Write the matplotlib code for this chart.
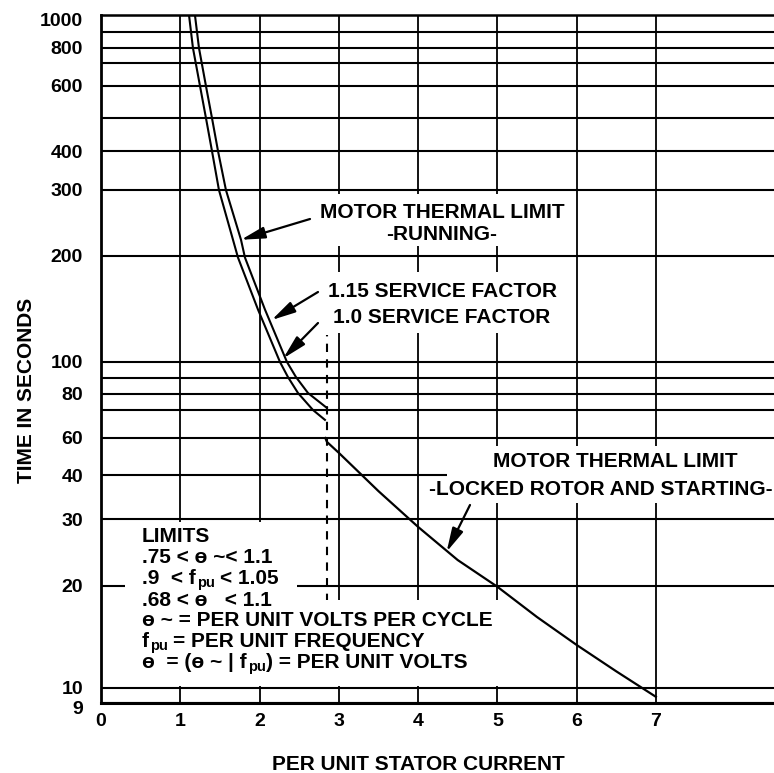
import numpy as np
import matplotlib
matplotlib.use("Agg")
import matplotlib.pyplot as plt
from matplotlib.patches import Rectangle
from matplotlib.transforms import ScaledTranslation
from matplotlib.ticker import FixedLocator, FixedFormatter, NullLocator

plt.rcParams["font.family"] = ["Liberation Sans", "DejaVu Sans"]
plt.rcParams["font.weight"] = "bold"

# running thermal limit, 1.15 service factor (per unit current, seconds)
sf115_current = [1.185, 1.236, 1.324, 1.400, 1.476, 1.576, 1.766, 1.816, 2.068, 2.346, 2.459, 2.611, 2.850]
sf115_time = [1000, 800, 600, 500, 400, 300, 221, 198, 141, 100, 90.6, 80.6, 71.2]

# running thermal limit, 1.0 service factor
sf100_current = [1.110, 1.160, 1.249, 1.324, 1.400, 1.488, 1.665, 1.728, 1.980, 2.258, 2.358, 2.485, 2.674, 2.825]
sf100_time = [1000, 800, 600, 500, 400, 300, 221, 198, 141, 100, 90.6, 80.6, 70, 66.3]

# locked rotor and starting limit
locked_current = [2.83, 2.85, 3.0, 3.5, 4.0, 4.5, 5.0, 5.5, 6.0, 6.5, 7.0]
locked_time = [60, 57.5, 51, 36, 28.6, 23.4, 19.9, 16.2, 13.4, 11.2, 9.4]

# boundary between running and locked-rotor regions
boundary_current = 2.85
boundary_time = [18, 119]

y_lines = [9, 10, 20, 30, 40, 60, 70, 80, 90, 100, 200, 300, 400, 500, 600, 700, 800, 900, 1000]
y_labels = ["9", "10", "20", "30", "40", "60", "", "80", "", "100",
            "200", "300", "400", "", "600", "", "800", "", "1000"]
x_ticks = list(range(8))

# printed ruling of the chart paper: height of each line above the bottom edge
ruling_height = np.array([0, 15, 117, 184, 228, 265, 293, 309, 325, 341,
                          447, 513, 552, 585, 617, 640, 655, 671, 688], dtype=float)
ruling_log = np.log10(y_lines)


def to_paper(v):
    v = np.clip(np.asarray(v, dtype=float), 1e-6, None)
    return np.interp(np.log10(v), ruling_log, ruling_height)


def from_paper(p):
    return 10 ** np.interp(np.asarray(p, dtype=float), ruling_height, ruling_log)


W, H = 774, 773
fig = plt.figure(figsize=(W / 100, H / 100), dpi=100)
ax = fig.add_axes([101 / W, 70 / H, 673 / W, 688 / H])
renderer = fig.canvas.get_renderer()


def at(x, y):
    # figure fraction from pixel position measured from the top-left corner
    return x / W, 1 - y / H


def ink_width(s, size):
    t = fig.text(0, 0, s, fontsize=size)
    w = t.get_window_extent(renderer).width
    t.remove()
    return w


ax.set_yscale("function", functions=(to_paper, from_paper))
ax.set_ylim(9, 1000)
ax.set_xlim(0, 8.49)

ax.yaxis.set_major_locator(FixedLocator(y_lines))
ax.yaxis.set_major_formatter(FixedFormatter(y_labels))
ax.yaxis.set_minor_locator(NullLocator())
ax.set_xticks(x_ticks)
ax.set_xticklabels([str(t) for t in x_ticks])
ax.xaxis.set_minor_locator(NullLocator())

ax.tick_params(axis="y", length=0, pad=13, labelsize=14)
ax.tick_params(axis="x", length=0, pad=7, labelsize=14)
ax.grid(axis="y", color="black", linewidth=1.5)
ax.grid(axis="x", color="black", linewidth=1.3)

# the end labels sit a little below their lines
fig.canvas.draw()
for lab in ax.get_yticklabels():
    if lab.get_text() in ("9", "1000"):
        lab.set_transform(lab.get_transform() + ScaledTranslation(0, -4.5 / 100, fig.dpi_scale_trans))

ax.spines["right"].set_visible(False)
ax.spines["left"].set_linewidth(2.0)
ax.spines["bottom"].set_linewidth(2.2)
ax.spines["top"].set_linewidth(1.8)

# curves
ax.plot(sf115_current, sf115_time, color="black", linewidth=1.5, zorder=3)
ax.plot(sf100_current, sf100_time, color="black", linewidth=1.5, zorder=3)
ax.plot(locked_current, locked_time, color="black", linewidth=1.6, zorder=3)
ax.plot([boundary_current, boundary_current], boundary_time, color="black",
        linewidth=1.5, linestyle=(0, (4, 3.5)), zorder=3)

# white ground behind the labels, cutting the ruling
white_areas = [
    (312, 194, 572, 246),   # running label
    (322, 272, 565, 333),   # service factor labels
    (447, 446, 774, 477),   # locked rotor label
    (425, 477, 774, 503),
    (125, 522, 297, 600),   # limits block
    (125, 600, 500, 686),
]
for x0, y0, x1, y1 in white_areas:
    fig.patches.append(Rectangle(at(x0, y1), (x1 - x0) / W, (y1 - y0) / H,
                                 transform=fig.transFigure, facecolor="white",
                                 edgecolor="none"))

fs = 15
fig.text(*at(442, 218), "MOTOR THERMAL LIMIT", ha="center", va="baseline", fontsize=fs)
fig.text(*at(442, 240), "-RUNNING-", ha="center", va="baseline", fontsize=fs)
fig.text(*at(442, 297), "1.15 SERVICE FACTOR", ha="center", va="baseline", fontsize=fs)
fig.text(*at(442, 323), "1.0 SERVICE FACTOR", ha="center", va="baseline", fontsize=fs)
fig.text(*at(615, 467), "MOTOR THERMAL LIMIT", ha="center", va="baseline", fontsize=fs)
fig.text(*at(601, 495), "-LOCKED ROTOR AND STARTING-", ha="center", va="baseline", fontsize=fs)

arrow = dict(arrowstyle="-|>,head_length=0.9,head_width=0.22", color="black",
             linewidth=1.6, shrinkA=0, shrinkB=0, mutation_scale=16)
ax.annotate("", xy=(1.766, 221), xytext=(310, H - 219), textcoords="figure pixels",
            arrowprops=arrow)
ax.annotate("", xy=(2.153, 131.6), xytext=(318, H - 292), textcoords="figure pixels",
            arrowprops=arrow)
ax.annotate("", xy=(2.299, 102.4), xytext=(318, H - 323), textcoords="figure pixels",
            arrowprops=arrow)
ax.annotate("", xy=(4.36, 24.6), xytext=(470, H - 505), textcoords="figure pixels",
            arrowprops=arrow)

# limits block: (text before subscript, subscript, text after)
limit_lines = [
    ("LIMITS", "", ""),
    (".75 < ɵ ~< 1.1", "", ""),
    (".9  < f", "pu", "< 1.05"),
    (".68 < ɵ   < 1.1", "", ""),
    ("ɵ ~ = PER UNIT VOLTS PER CYCLE", "", ""),
    ("f", "pu", "= PER UNIT FREQUENCY"),
    ("ɵ  = (ɵ ~ | f", "pu", ") = PER UNIT VOLTS"),
]
baselines = [542, 563, 584, 606, 626, 647, 668]
sub_fs = 10.5
bar = ink_width("|", fs)
for (head, sub, tail), yb in zip(limit_lines, baselines):
    x = 142
    fig.text(*at(x, yb), head, ha="left", va="baseline", fontsize=fs)
    if not sub:
        continue
    x += ink_width(head + "|", fs) - bar + 1
    fig.text(*at(x, yb + 3), sub, ha="left", va="baseline", fontsize=sub_fs)
    x += ink_width(sub, sub_fs) + (5 if tail[0] != ")" else 1)
    fig.text(*at(x, yb), tail, ha="left", va="baseline", fontsize=fs)

ax.set_xlabel("PER UNIT STATOR CURRENT", fontsize=15, fontweight="bold")
ax.xaxis.set_label_coords(0.471, -0.0756)
ax.set_ylabel("TIME IN SECONDS", fontsize=15, fontweight="bold")
ax.yaxis.set_label_coords(-0.0966, 0.455)

fig.savefig("out.png", dpi=100)
